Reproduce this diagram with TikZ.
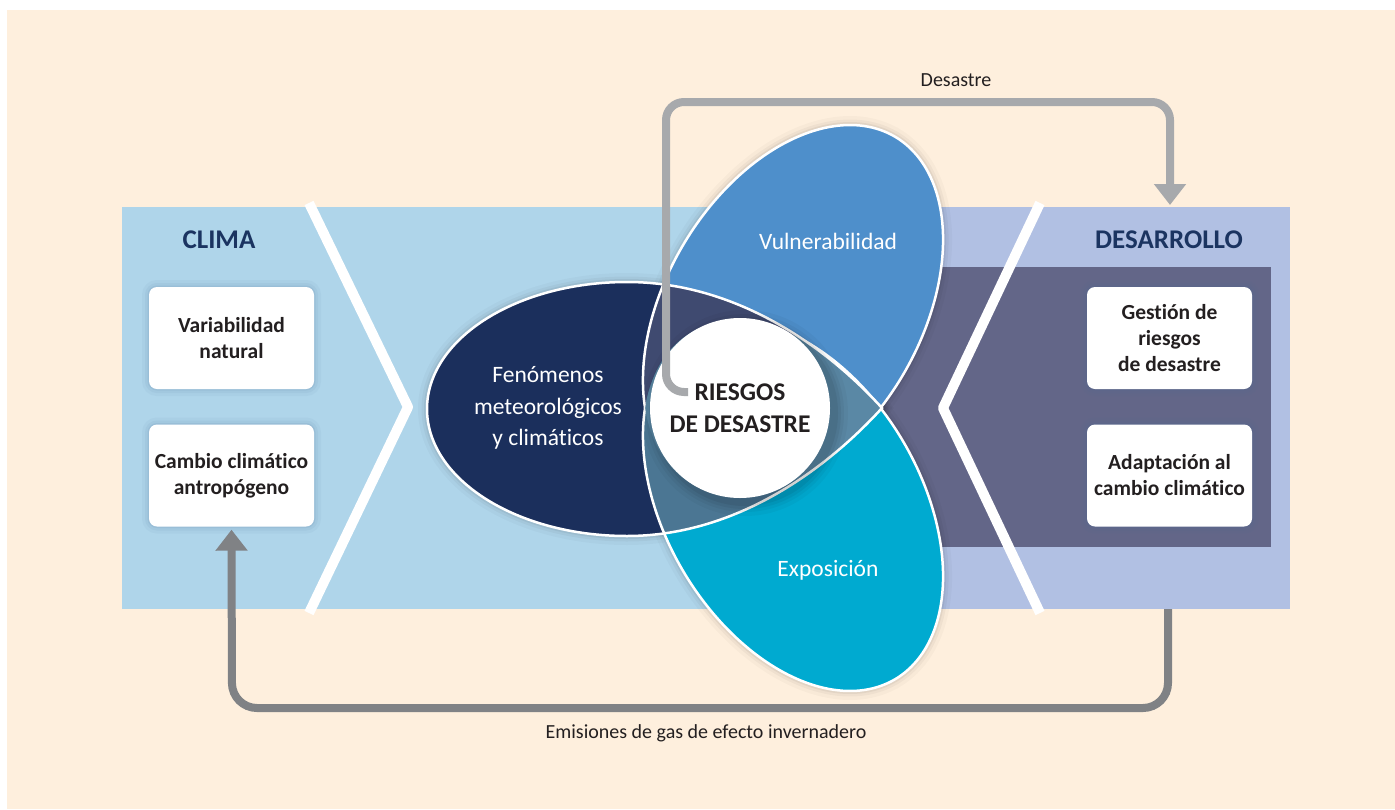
\documentclass[tikz,border=0pt]{standalone}
\usepackage{fontspec}
\setmainfont{Carlito}[RawFeature={-liga;-clig;-calt;-dlig}]
\usetikzlibrary{arrows.meta}
\definecolor{cream}{HTML}{FEEFDD}
\definecolor{bandblue}{HTML}{AFD5EA}
\definecolor{bandlav}{HTML}{B1C0E3}
\definecolor{slate}{HTML}{636688}
\definecolor{navy}{HTML}{1B2F5C}
\definecolor{vulblue}{HTML}{4E8FCB}
\definecolor{expcyan}{HTML}{00AAD0}
\definecolor{nvgray}{HTML}{3F4A70}
\definecolor{netal}{HTML}{4B7693}
\definecolor{triple}{HTML}{5A88A5}
\definecolor{titlenavy}{HTML}{1B3461}
\definecolor{txtdark}{HTML}{231F20}
\definecolor{arrowdark}{HTML}{808285}
\definecolor{arrowlight}{HTML}{A7A9AC}
\definecolor{shadowblue}{HTML}{4A6E98}
\newcommand\bxfont{\fontsize{21.5pt}{26pt}\selectfont\bfseries}
\newcommand\ttlfont{\fontsize{27pt}{30pt}\selectfont\bfseries}
\newcommand\elfont{\fontsize{23.5pt}{31.5pt}\selectfont}
\newcommand\rsfont{\fontsize{25.5pt}{32pt}\selectfont\bfseries}
\newcommand\lblfont{\fontsize{20pt}{24pt}\selectfont}
\def\vulpath{plot[domain=0:360,samples=200,variable=\x] ({793+102.06*cos(\x)+110.03*sin(\x)},{310-173.27*cos(\x)+64.81*sin(\x)}) -- cycle}
\def\exppath{plot[domain=0:360,samples=200,variable=\x] ({793+102.06*cos(\x)+110.03*sin(\x)},{506+173.27*cos(\x)-64.81*sin(\x)}) -- cycle}
\def\navypath{(427,409) .. controls (427,338.9) and (516.5,282) .. (627,282) .. controls (730,282) and (820,340) .. (882,408) .. controls (820,476) and (730,536) .. (627,536) .. controls (516.5,536) and (427,479.1) .. (427,409) -- cycle}
\tikzset{
  boxnode/.style={fill=white, rounded corners=8pt, minimum width=165pt, minimum height=102pt,
    inner sep=0pt, align=center, text=txtdark, font=\bxfont,
    preaction={draw=shadowblue, draw opacity=0.05, line width=14pt},
    preaction={draw=shadowblue, draw opacity=0.07, line width=8pt},
    preaction={draw=shadowblue, draw opacity=0.10, line width=3pt}},
  ttlnode/.style={font=\ttlfont, text=titlenavy},
  elnode/.style={font=\elfont, text=white, align=center},
  lblnode/.style={font=\lblfont, text=txtdark},
  outline/.style={draw=white, line width=2.5pt},
  chevron/.style={draw=white, line width=10pt, line join=round},
  grayarrow/.style={line width=8pt, -{Triangle[width=31pt,length=21pt]}},
}
\begin{document}
\begin{tikzpicture}[x=1pt,y=-1pt]
\useasboundingbox (0,0) rectangle (1395,809);
\fill[white] (0,0) rectangle (1395,809);
\fill[cream] (7,10) rectangle (1395,809);
% bands
\fill[bandblue] (122,207) rectangle (800,609);
\fill[bandlav] (800,207) rectangle (1290,609);
\fill[slate] (860,267) rectangle (1271,547);
\coordinate (bandbot) at (1168,609);
\coordinate (bandtop) at (1170,205);
% chevrons
\draw[chevron] (309,203) -- (408,407) -- (309,613);
\draw[chevron] (1040,203) -- (943,408) -- (1040,613);
% titles
\node[ttlnode] (clima) at (219,240) {CLIMA};
\node[ttlnode] (desarrollo) at (1169,240) {DESARROLLO};
% boxes
\node[boxnode] (variab) at (231.5,338) {Variabilidad\\natural};
\node[boxnode] (cambio) at (231.5,475.5) {Cambio climático\\antropógeno};
\node[boxnode] (gestion) at (1169.5,338) {Gestión de\\riesgos\\de desastre};
\node[boxnode] (adapt) at (1169.5,475.5) {Adaptación al\\cambio climático};
% ellipse glows
\foreach \w/\o in {18pt/0.025,11pt/0.035,6pt/0.05} {
  \draw[black, opacity=\o, line width=\w] \vulpath;
  \draw[black, opacity=\o, line width=\w] \exppath;
  \draw[black, opacity=\o, line width=\w] \navypath;
}
\fill[vulblue] \vulpath;
\draw[outline] \vulpath;
\fill[expcyan] \exppath;
\draw[outline] \exppath;
\fill[navy] \navypath;
\begin{scope}
  \clip \navypath;
  \fill[nvgray] \vulpath;
  \fill[netal] \exppath;
  \begin{scope}
    \clip \vulpath;
    \fill[triple] \exppath;
  \end{scope}
  \begin{scope}[even odd rule]
    \clip (0,0) rectangle (1395,809) \exppath;
    \draw[outline] \vulpath;
  \end{scope}
  \begin{scope}[even odd rule]
    \clip (0,0) rectangle (1395,809) \vulpath;
    \draw[outline] \exppath;
  \end{scope}
\end{scope}
\draw[outline] \navypath;
% centre circle
\foreach \r/\o in {103/0.03,99/0.04,96/0.05,93/0.06} {
  \fill[black, opacity=\o] (745,413) circle (\r);
}
\node[circle, fill=white, minimum size=180pt, inner sep=0pt, font=\rsfont, text=txtdark, align=center] (riesgos) at (740,408) {RIESGOS\\DE DESASTRE};
% ellipse labels
\node[elnode] (fen) at (548,408) {Fenómenos\\meteorológicos\\y climáticos};
\node[elnode] (vul) at (828,241) {Vulnerabilidad};
\node[elnode] (expo) at (828,570) {Exposición};
% arrows
\coordinate (tstart) at (688,392);
\draw[grayarrow, arrowlight, rounded corners=18pt] (tstart) -- (666,392) -- (666,102) -- (1170,102) -- (bandtop);
\draw[grayarrow, arrowdark, rounded corners=25pt] (bandbot) -- (1168,708) -- (232,708) -- ([yshift=-3pt]cambio.south);
\node[lblnode] (desastre) at (956,80) {Desastre};
\node[lblnode] (emis) at (706,733) {Emisiones de gas de efecto invernadero};
\end{tikzpicture}
\end{document}
